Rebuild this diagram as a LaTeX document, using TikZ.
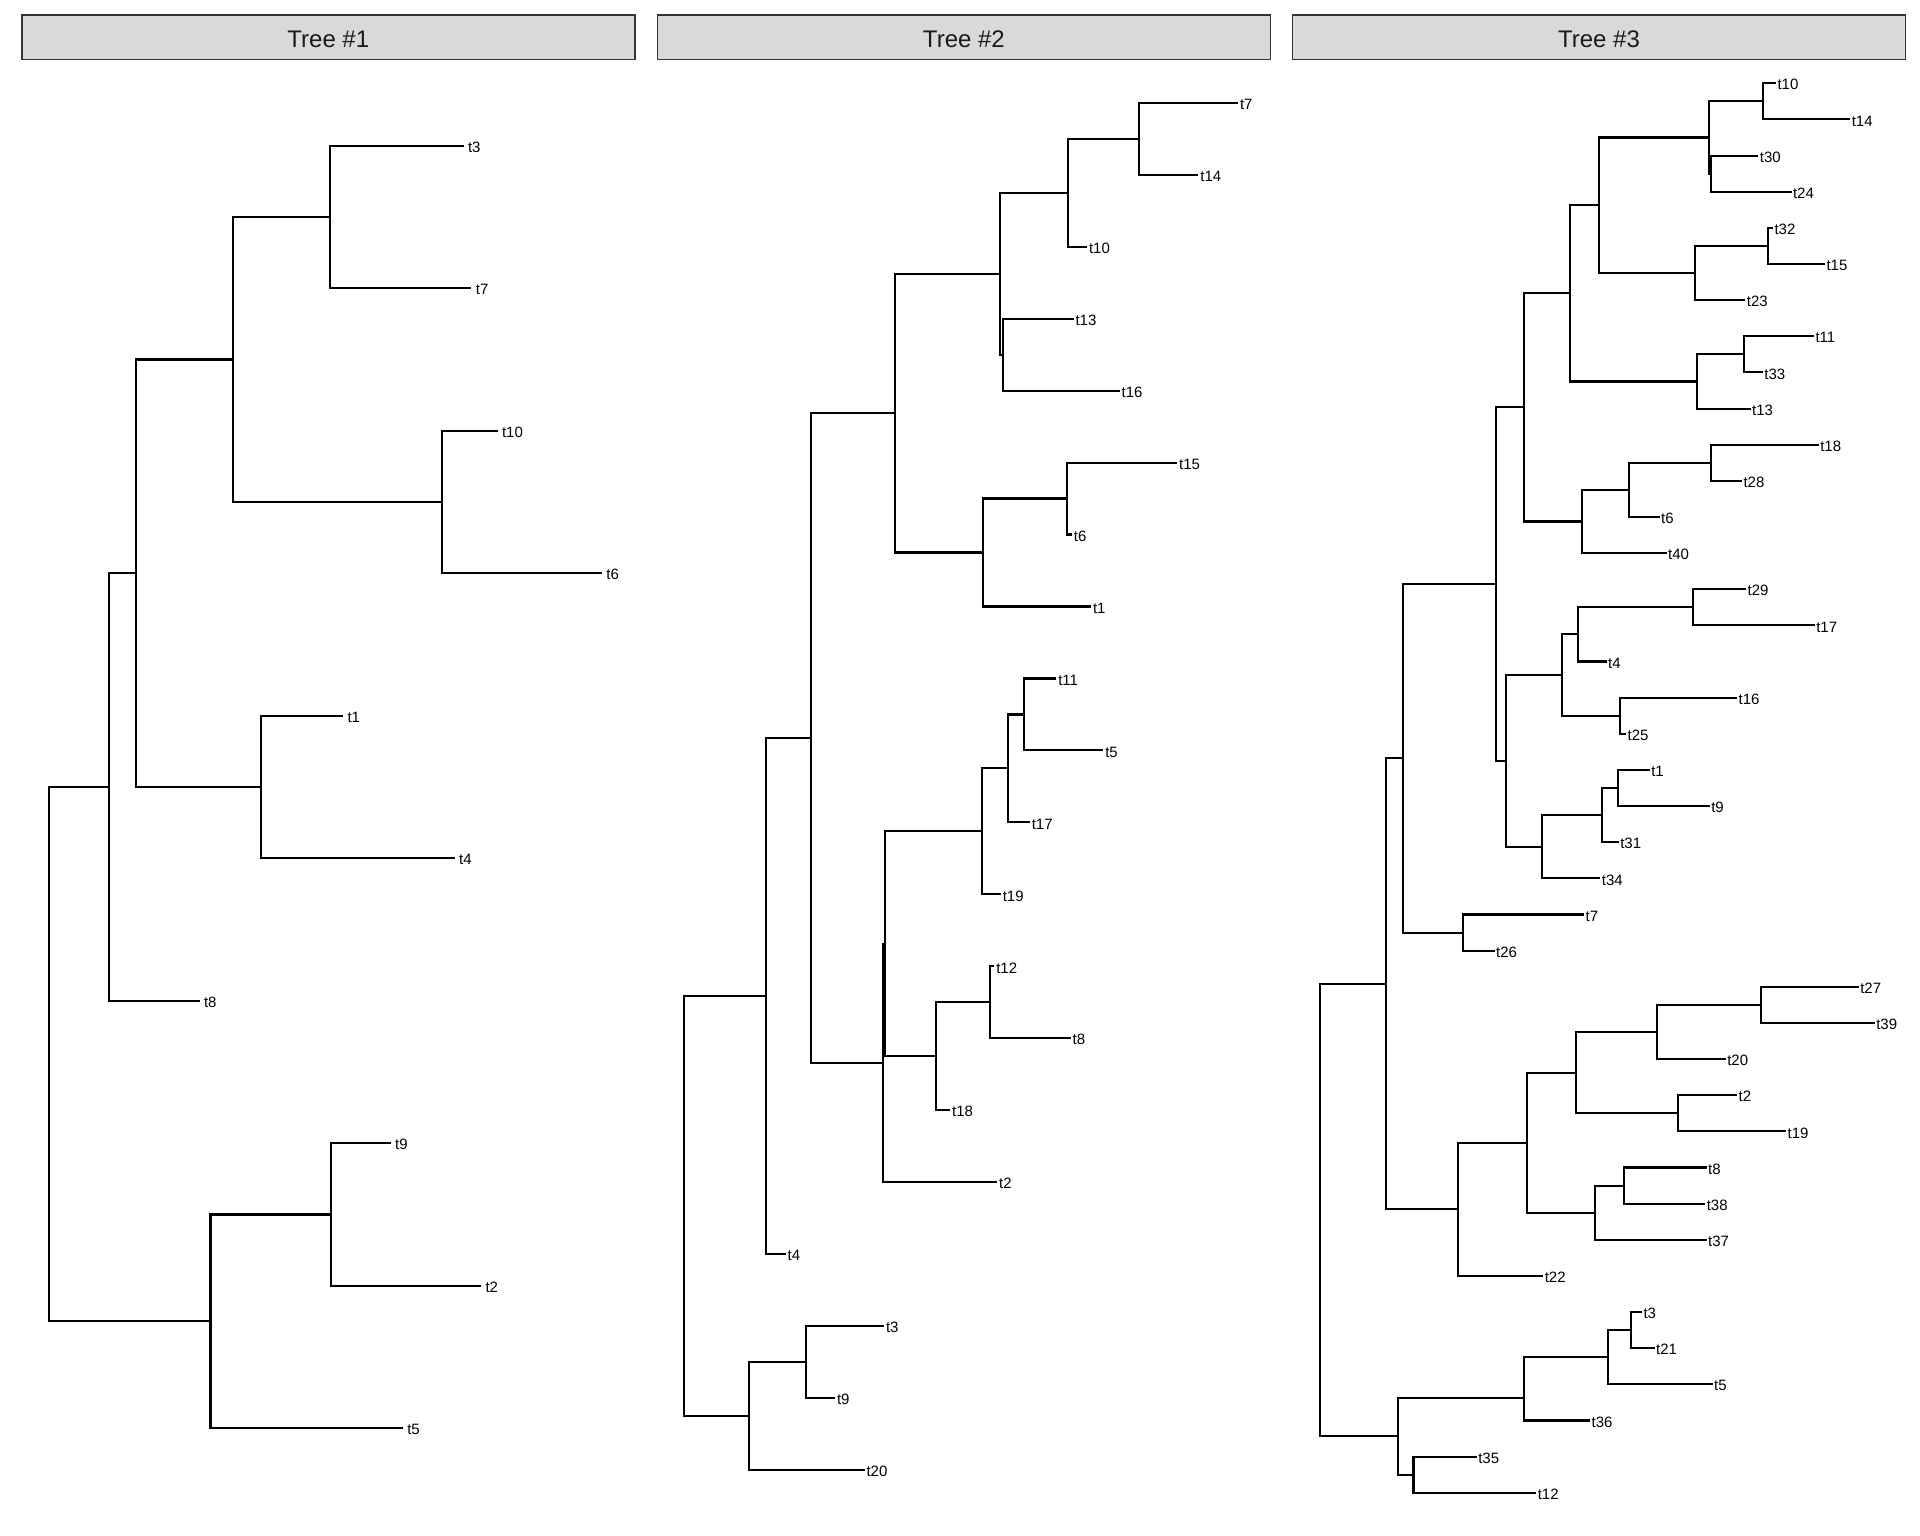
\documentclass[tikz,border=0pt]{standalone}
\usepackage{fontspec}
\setmainfont{Liberation Sans}
\definecolor{stripfill}{HTML}{D9D9D9}
\definecolor{stripline}{HTML}{333333}
\definecolor{striptext}{HTML}{1A1A1A}
\tikzset{
  branch/.style={line width=2.1pt, line join=miter, draw=black},
  tiplab/.style={anchor=west, inner sep=0pt, yshift=-1.5pt, font=\fontsize{15}{15}\selectfont, text=black},
  strip/.style={draw=stripline, fill=stripfill, line width=1.6pt, minimum width=613pt, minimum height=44.4pt, inner sep=0pt, anchor=center},
  striptitle/.style={font=\fontsize{24}{24}\selectfont, text=striptext, inner sep=0pt},
}
\newcommand{\mytip}[4]{\coordinate (#1) at (#2,#3); \node[tiplab] (#1l) at (#1) {#4};}
\newcommand{\myjoin}[5]{\coordinate (#1) at (#2,#3); \draw[branch] (#1) |- (#4) (#1) |- (#5);}
\begin{document}
\begin{tikzpicture}[x=1pt,y=-1pt]
\useasboundingbox (0,0) rectangle (1920,1536);
% strips
\node[strip] (s1) at (328.3,37.3) {};
\node[striptitle] (s1t) at (328.3,39.4) {Tree \#1};
\node[strip] (s2) at (963.9,37.3) {};
\node[striptitle] (s2t) at (963.9,39.4) {Tree \#2};
\node[strip] (s3) at (1599,37.3) {};
\node[striptitle] (s3t) at (1599,39.4) {Tree \#3};

% ---------------- Tree 1 ----------------
\begin{scope}[yshift=-145.7pt, y=-142.5pt, tiplab/.append style={xshift=4.3pt}]
\mytip{a3}{463.5}{0}{t3}
\mytip{a7}{471.4}{1}{t7}
\mytip{a10}{497.5}{2}{t10}
\mytip{a6}{601.9}{3}{t6}
\mytip{a1}{343}{4}{t1}
\mytip{a4}{454.6}{5}{t4}
\mytip{a8}{199.5}{6}{t8}
\mytip{a9}{390.6}{7}{t9}
\mytip{a2}{481}{8}{t2}
\mytip{a5}{402.8}{9}{t5}
\myjoin{aA}{330}{0.5}{a3}{a7}
\myjoin{aB}{442}{2.5}{a10}{a6}
\myjoin{aC}{232.8}{1.5}{aA}{aB}
\myjoin{aD}{261}{4.5}{a1}{a4}
\myjoin{aE}{136}{3}{aC}{aD}
\myjoin{aF}{109}{4.5}{aE}{a8}
\myjoin{aG}{331}{7.5}{a9}{a2}
\myjoin{aH}{210.5}{8.25}{aG}{a5}
\myjoin{aR}{49.2}{6.375}{aF}{aH}
\end{scope}

% ---------------- Tree 2 ----------------
\begin{scope}[yshift=-102.7pt, y=-71.97pt, tiplab/.append style={xshift=1.8pt}]
\mytip{b7}{1238}{0}{t7}
\mytip{b14}{1198.4}{1}{t14}
\mytip{b10}{1087}{2}{t10}
\mytip{b13}{1073.5}{3}{t13}
\mytip{b16}{1119.6}{4}{t16}
\mytip{b15}{1177.2}{5}{t15}
\mytip{b6}{1071.9}{6}{t6}
\mytip{b1}{1091}{7}{t1}
\mytip{b11}{1056.3}{8}{t11}
\mytip{b5}{1103.3}{9}{t5}
\mytip{b17}{1029.8}{10}{t17}
\mytip{b19}{1000.8}{11}{t19}
\mytip{b12}{994.3}{12}{t12}
\mytip{b8}{1070.7}{13}{t8}
\mytip{b18}{950.2}{14}{t18}
\mytip{b2}{997.2}{15}{t2}
\mytip{b4}{785.7}{16}{t4}
\mytip{b3}{884}{17}{t3}
\mytip{b9}{835}{18}{t9}
\mytip{b20}{864.5}{19}{t20}
\myjoin{bA}{1138.8}{0.5}{b7}{b14}
\myjoin{bB}{1067.8}{1.25}{bA}{b10}
\myjoin{bC}{1002.9}{3.5}{b13}{b16}
\myjoin{bD}{1000}{2.375}{bB}{bC}
\myjoin{bE}{1067}{5.5}{b15}{b6}
\myjoin{bF}{982.9}{6.25}{bE}{b1}
\myjoin{bG}{894.7}{4.3125}{bD}{bF}
\myjoin{bH}{1023.7}{8.5}{b11}{b5}
\myjoin{bI}{1008.2}{9.25}{bH}{b17}
\myjoin{bJ}{981.7}{10.125}{bI}{b19}
\myjoin{bK}{989.8}{12.5}{b12}{b8}
\myjoin{bL}{936}{13.25}{bK}{b18}
\myjoin{bM}{884.9}{11.6875}{bJ}{bL}
\myjoin{bN}{883.3}{13.34375}{bM}{b2}
\myjoin{bO}{810.6}{8.828125}{bG}{bN}
\myjoin{bP}{765.7}{12.4140625}{bO}{b4}
\myjoin{bQ}{805.7}{17.5}{b3}{b9}
\myjoin{bRr}{749}{18.25}{bQ}{b20}
\myjoin{bR}{683.7}{15.33203125}{bP}{bRr}
\end{scope}

% ---------------- Tree 3 ----------------
\begin{scope}[yshift=-83.3pt, y=-36.14pt, tiplab/.append style={xshift=1.3pt}]
\mytip{c10}{1776}{0}{t10}
\mytip{c14}{1850.3}{1}{t14}
\mytip{c30}{1758.4}{2}{t30}
\mytip{c24}{1791.5}{3}{t24}
\mytip{c32}{1773}{4}{t32}
\mytip{c15}{1825}{5}{t15}
\mytip{c23}{1745.4}{6}{t23}
\mytip{c11}{1814}{7}{t11}
\mytip{c33}{1762.9}{8}{t33}
\mytip{c13}{1750.7}{9}{t13}
\mytip{c18}{1818.8}{10}{t18}
\mytip{c28}{1742}{11}{t28}
\mytip{c6}{1659.6}{12}{t6}
\mytip{c40}{1666.6}{13}{t40}
\mytip{c29}{1746.2}{14}{t29}
\mytip{c17}{1814.8}{15}{t17}
\mytip{c4}{1606.6}{16}{t4}
\mytip{c16}{1737.2}{17}{t16}
\mytip{c25}{1626.2}{18}{t25}
\mytip{c1}{1649.8}{19}{t1}
\mytip{c9}{1709.8}{20}{t9}
\mytip{c31}{1618.8}{21}{t31}
\mytip{c34}{1600.4}{22}{t34}
\mytip{c7}{1584.1}{23}{t7}
\mytip{c26}{1494.7}{24}{t26}
\mytip{c27}{1858.8}{25}{t27}
\mytip{c39}{1874.8}{26}{t39}
\mytip{c20}{1725.8}{27}{t20}
\mytip{c2}{1737.2}{28}{t2}
\mytip{c19}{1786.2}{29}{t19}
\mytip{c8}{1706.6}{30}{t8}
\mytip{c38}{1705.3}{31}{t38}
\mytip{c37}{1706.6}{32}{t37}
\mytip{c22}{1543.3}{33}{t22}
\mytip{c3}{1642}{34}{t3}
\mytip{c21}{1654.7}{35}{t21}
\mytip{c5}{1712.7}{36}{t5}
\mytip{c36}{1590.2}{37}{t36}
\mytip{c35}{1476.8}{38}{t35}
\mytip{c12}{1536.3}{39}{t12}
\myjoin{cA}{1762.9}{0.5}{c10}{c14}
\myjoin{cB}{1710.7}{2.5}{c30}{c24}
\myjoin{cC}{1708.6}{1.5}{cA}{cB}
\myjoin{cD}{1768.2}{4.5}{c32}{c15}
\myjoin{cE}{1694.7}{5.25}{cD}{c23}
\myjoin{cF}{1598.8}{3.375}{cC}{cE}
\myjoin{cG}{1744.1}{7.5}{c11}{c33}
\myjoin{cH}{1696.8}{8.25}{cG}{c13}
\myjoin{cI}{1569.8}{5.8125}{cF}{cH}
\myjoin{cJ}{1710.7}{10.5}{c18}{c28}
\myjoin{cK}{1629}{11.25}{cJ}{c6}
\myjoin{cL}{1581.7}{12.125}{cK}{c40}
\myjoin{cM}{1523.7}{8.96875}{cI}{cL}
\myjoin{cN}{1693.1}{14.5}{c29}{c17}
\myjoin{cO}{1578.4}{15.25}{cN}{c4}
\myjoin{cP}{1620}{17.5}{c16}{c25}
\myjoin{cQ}{1561.7}{16.375}{cO}{cP}
\myjoin{cR}{1618.4}{19.5}{c1}{c9}
\myjoin{cS}{1601.7}{20.25}{cR}{c31}
\myjoin{cT}{1541.6}{21.125}{cS}{c34}
\myjoin{cU}{1505.7}{18.75}{cQ}{cT}
\myjoin{cV}{1495.9}{13.859375}{cM}{cU}
\myjoin{cW}{1463.3}{23.5}{c7}{c26}
\myjoin{cX}{1403.3}{18.6796875}{cV}{cW}
\myjoin{cAA}{1760.9}{25.5}{c27}{c39}
\myjoin{cBB}{1656.8}{26.25}{cAA}{c20}
\myjoin{cCC}{1678}{28.5}{c2}{c19}
\myjoin{cDD}{1576}{27.375}{cBB}{cCC}
\myjoin{cEE}{1624.1}{30.5}{c8}{c38}
\myjoin{cFF}{1594.7}{31.25}{cEE}{c37}
\myjoin{cGG}{1527.4}{29.3125}{cDD}{cFF}
\myjoin{cZ}{1458.4}{31.15625}{cGG}{c22}
\myjoin{cY}{1386.1}{24.91796875}{cX}{cZ}
\myjoin{cHH}{1631}{34.5}{c3}{c21}
\myjoin{cII}{1608.2}{35.25}{cHH}{c5}
\myjoin{cJJ}{1523.7}{36.375}{cII}{c36}
\myjoin{cKK}{1413.5}{38.5}{c35}{c12}
\myjoin{cLL}{1398.4}{37.4375}{cJJ}{cKK}
\myjoin{cRt}{1320}{31.177734375}{cY}{cLL}
\end{scope}
\end{tikzpicture}
\end{document}
